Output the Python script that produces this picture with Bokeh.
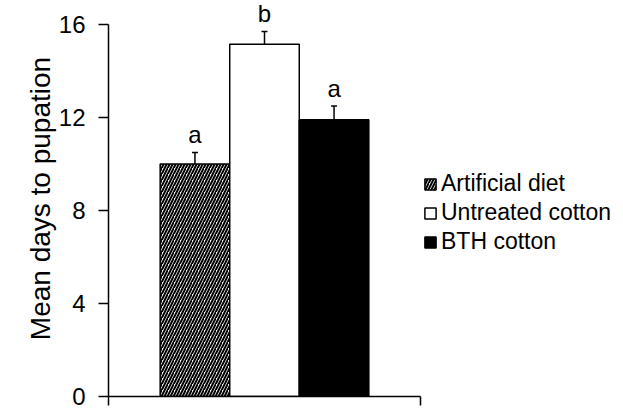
from bokeh.plotting import figure
from bokeh.models import (Range1d, FixedTicker, Legend, LegendItem, ColumnDataSource,
                          Whisker, TeeHead, LabelSet)
from bokeh.core.properties import value
from bokeh.embed import file_html
from bokeh.resources import INLINE

# ---- data ----
categories = ["Artificial diet", "Untreated cotton", "BTH cotton"]
means = [10.0, 15.15, 11.9]
errors = [0.5, 0.55, 0.6]
letters = ["a", "b", "a"]
y_ticks = [0, 4, 8, 12, 16]

positions = [1, 2, 3]
fill_colors = ["white", "white", "black"]
hatches = ["/", " ", " "]

FONT = "Liberation Sans"

upper = [m + e for m, e in zip(means, errors)]
src = ColumnDataSource(dict(x=positions, cat=categories, top=means, upper=upper,
                            fill=fill_colors, hatch=hatches, letter=letters))

x0 = 0.5 - 52 / 70
x1 = 3.5 + 52 / 70
PX_PER_UNIT = 372 / 16
y_top = 396 / PX_PER_UNIT

p = figure(frame_width=312, frame_height=396, output_backend="svg", toolbar_location=None,
           x_range=Range1d(x0, x1), y_range=Range1d(0, y_top),
           min_border_left=108, min_border_right=195, min_border_top=0, min_border_bottom=13)
p.outline_line_color = None
p.xgrid.visible = False
p.ygrid.visible = False
p.background_fill_color = "white"
p.border_fill_color = "white"

bars = p.vbar(x="x", top="top", width=1.0, bottom=0, source=src,
              fill_color="fill", line_color="black", line_width=1.5,
              hatch_pattern="hatch", hatch_color="black", hatch_weight=2, hatch_scale=6)

wh = Whisker(source=src, base="x", upper="upper", lower="top", dimension="height",
             line_color="black", line_width=1.5,
             upper_head=TeeHead(size=6, line_width=1.5, line_color="black"), lower_head=None)
p.add_layout(wh)

labels = LabelSet(source=src, x="x", y="upper", text="letter", y_offset=4,
                  text_align="center", text_baseline="bottom",
                  text_font=value(FONT), text_font_size="24px", text_color="black")
p.add_layout(labels)

# y axis
ya = p.yaxis[0]
ya.ticker = FixedTicker(ticks=y_ticks)
ya.bounds = (0, 16)
ya.major_tick_out = 10
ya.major_tick_in = 0
ya.minor_tick_out = 0
ya.minor_tick_in = 0
ya.axis_line_width = 1.5
ya.major_tick_line_width = 1.5
ya.major_label_standoff = 13
ya.major_label_text_font = FONT
ya.major_label_text_font_size = "24px"
ya.major_label_text_color = "black"
ya.axis_label = "Mean days to pupation"
ya.axis_label_text_font = FONT
ya.axis_label_text_font_size = "28px"
ya.axis_label_text_font_style = "normal"
ya.axis_label_text_color = "black"
ya.axis_label_standoff = 0

# x axis: ticks only at ends
xa = p.xaxis[0]
xa.ticker = FixedTicker(ticks=[x0 + 1e-6, x1 - 1e-6])
xa.major_label_overrides = {x0 + 1e-6: "", x1 - 1e-6: ""}
xa.major_label_text_font_size = "0px"
xa.major_label_standoff = 0
xa.major_tick_out = 9
xa.major_tick_in = 0
xa.minor_tick_out = 0
xa.minor_tick_in = 0
xa.axis_line_width = 1.5
xa.major_tick_line_width = 1.5

legend = Legend(items=[LegendItem(label=c, renderers=[bars], index=i) for i, c in enumerate(categories)],
                location=(3, 141), border_line_color=None, background_fill_alpha=0,
                label_text_font=FONT, label_text_font_size="23px", label_text_color="black",
                glyph_width=14, glyph_height=14, label_standoff=4, spacing=2,
                padding=0, margin=0)
p.add_layout(legend, "right")

open("out.html", "w").write(file_html(p, INLINE))
